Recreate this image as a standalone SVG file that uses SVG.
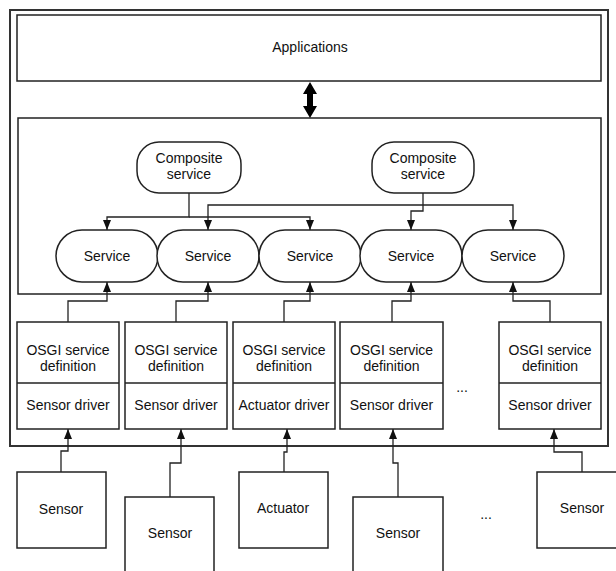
<svg xmlns="http://www.w3.org/2000/svg" width="616" height="571" viewBox="0 0 616 571">
<style>
  .box{fill:#fff;stroke:#222;stroke-width:1.5}
  .outer{fill:#fff;stroke:#333;stroke-width:2}
  .t{font-family:"Liberation Sans",Arial,sans-serif;font-size:14px;fill:#111;text-anchor:middle}
  .c{fill:none;stroke:#222;stroke-width:1.3}
</style>
<defs>
  <marker id="ah" markerUnits="userSpaceOnUse" markerWidth="10" markerHeight="8" refX="10" refY="4" orient="auto">
    <path d="M0,0 L10,4 L0,8 z" fill="#111"/>
  </marker>
</defs>
<rect class="outer" x="10" y="10" width="598" height="436"/>
<g id="applications">
  <rect class="box" x="17" y="15" width="584" height="66"/>
  <text class="t" x="310" y="52">Applications</text>
</g>
<g id="core">
  <rect class="box" x="18" y="118" width="583" height="176"/>
</g>
<g id="composite1">
  <rect class="box" x="137" y="142" width="104" height="51" rx="22"/>
  <text class="t" x="189" y="163">Composite</text>
  <text class="t" x="189" y="179">service</text>
</g>
<g id="composite2">
  <rect class="box" x="372" y="142" width="102" height="51" rx="22"/>
  <text class="t" x="423" y="163">Composite</text>
  <text class="t" x="423" y="179">service</text>
</g>
<g id="service1"><rect class="box" x="56" y="230" width="102" height="52" rx="26"/><text class="t" x="107" y="261">Service</text></g>
<g id="service2"><rect class="box" x="157" y="230" width="102" height="52" rx="26"/><text class="t" x="208" y="261">Service</text></g>
<g id="service3"><rect class="box" x="259" y="230" width="102" height="52" rx="26"/><text class="t" x="310" y="261">Service</text></g>
<g id="service4"><rect class="box" x="360" y="230" width="102" height="52" rx="26"/><text class="t" x="411" y="261">Service</text></g>
<g id="service5"><rect class="box" x="462" y="230" width="102" height="52" rx="26"/><text class="t" x="513" y="261">Service</text></g>

<g id="osgi1"><rect class="box" x="17" y="322" width="102" height="107"/><line class="box" x1="17" y1="383" x2="119" y2="383"/><text class="t" x="68" y="355">OSGI service</text><text class="t" x="68" y="371">definition</text><text class="t" x="68" y="410">Sensor driver</text></g>
<g id="osgi2"><rect class="box" x="125" y="322" width="102" height="107"/><line class="box" x1="125" y1="383" x2="227" y2="383"/><text class="t" x="176" y="355">OSGI service</text><text class="t" x="176" y="371">definition</text><text class="t" x="176" y="410">Sensor driver</text></g>
<g id="osgi3"><rect class="box" x="233" y="322" width="102" height="107"/><line class="box" x1="233" y1="383" x2="335" y2="383"/><text class="t" x="284" y="355">OSGI service</text><text class="t" x="284" y="371">definition</text><text class="t" x="284" y="410">Actuator driver</text></g>
<g id="osgi4"><rect class="box" x="340" y="322" width="103" height="107"/><line class="box" x1="340" y1="383" x2="443" y2="383"/><text class="t" x="391.5" y="355">OSGI service</text><text class="t" x="391.5" y="371">definition</text><text class="t" x="391.5" y="410">Sensor driver</text></g>
<g id="osgi5"><rect class="box" x="499" y="322" width="102" height="107"/><line class="box" x1="499" y1="383" x2="601" y2="383"/><text class="t" x="550" y="355">OSGI service</text><text class="t" x="550" y="371">definition</text><text class="t" x="550" y="410">Sensor driver</text></g>
<g id="ellipsis1"><text class="t" x="462" y="392">...</text></g>

<g id="sensor1"><rect class="box" x="17" y="472" width="89" height="76"/><text class="t" x="61" y="514">Sensor</text></g>
<g id="sensor2"><rect class="box" x="125" y="497" width="89" height="78"/><text class="t" x="170" y="538">Sensor</text></g>
<g id="actuator"><rect class="box" x="239" y="472" width="89" height="76"/><text class="t" x="283" y="513">Actuator</text></g>
<g id="sensor4"><rect class="box" x="353" y="497" width="90" height="78"/><text class="t" x="398" y="538">Sensor</text></g>
<g id="sensor5"><rect class="box" x="537" y="472" width="90" height="76"/><text class="t" x="582" y="513">Sensor</text></g>
<g id="ellipsis2"><text class="t" x="486" y="519">...</text></g>

<g id="connectors">
  <polygon points="310,82 317,94 313,94 313,106 317,106 310,118 303,106 307,106 307,94 303,94" fill="#000"/>
  <path class="c" d="M189,193 V217 H107 V230" marker-end="url(#ah)"/>
  <path class="c" d="M189,217 H310 V230" marker-end="url(#ah)"/>
  <path class="c" d="M423,193 V211 H411 V230" marker-end="url(#ah)"/>
  <path class="c" d="M423,205 H208 V230" marker-end="url(#ah)"/>
  <path class="c" d="M423,205 H513 V230" marker-end="url(#ah)"/>
  <path class="c" d="M68,322 V301 H107 V282" marker-end="url(#ah)"/>
  <path class="c" d="M176,322 V301 H208 V282" marker-end="url(#ah)"/>
  <path class="c" d="M284,322 V301 H310 V282" marker-end="url(#ah)"/>
  <path class="c" d="M392,322 V301 H411 V282" marker-end="url(#ah)"/>
  <path class="c" d="M550,322 V301 H513 V282" marker-end="url(#ah)"/>
  <path class="c" d="M61,472 V451 H68 V429" marker-end="url(#ah)"/>
  <path class="c" d="M170,497 V463 H181 V429" marker-end="url(#ah)"/>
  <path class="c" d="M284,472 V452 H287 V429" marker-end="url(#ah)"/>
  <path class="c" d="M398,497 V463 H393 V429" marker-end="url(#ah)"/>
  <path class="c" d="M582,472 V452 H554 V429" marker-end="url(#ah)"/>
</g>
</svg>
